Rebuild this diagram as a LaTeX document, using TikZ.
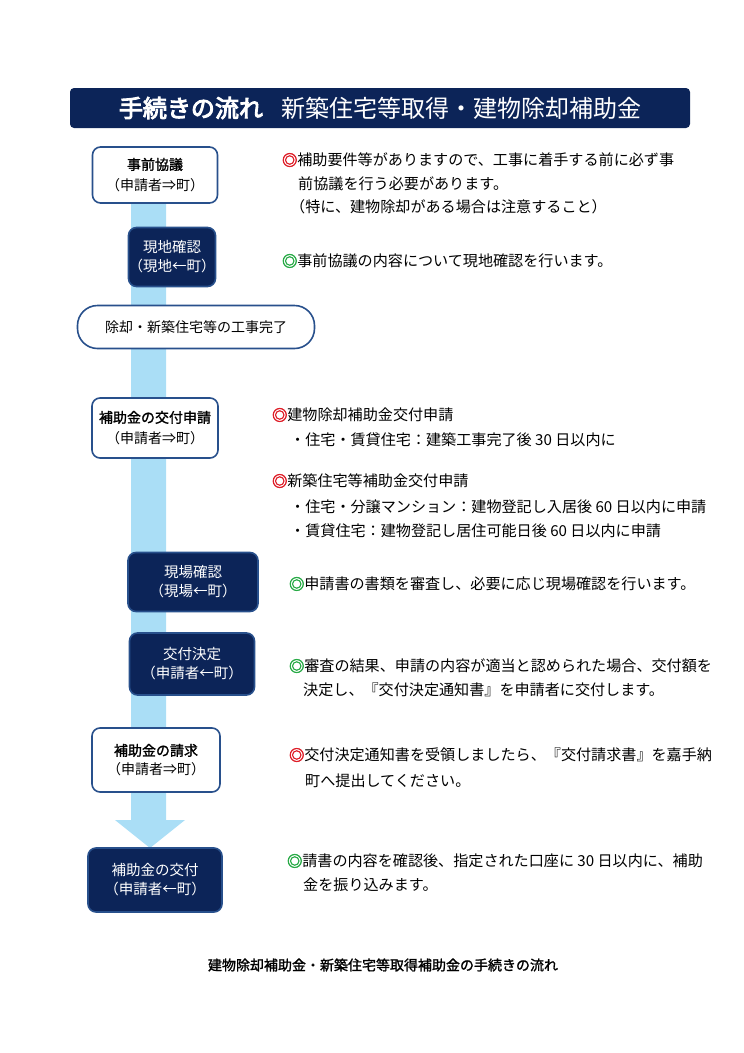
\documentclass[tikz,border=0pt]{standalone}
\usepackage{fontspec}
\setmainfont{Noto Sans CJK JP}
\newfontfamily\jpb{Noto Sans CJK JP}[FakeBold=1.5]
\newfontfamily\jpbb{Noto Sans CJK JP}[FakeBold=4]
\usetikzlibrary{calc}
\definecolor{navy}{RGB}{12,36,88}
\definecolor{rim}{RGB}{40,80,140}
\definecolor{sky}{RGB}{170,222,246}
\definecolor{mred}{RGB}{222,30,40}
\definecolor{mgreen}{RGB}{40,170,70}
\newcommand\rmark{{\jpbb\color{mred}◎}}
\newcommand\gmark{{\jpbb\color{mgreen}◎}}

\begin{document}
\begin{tikzpicture}[
    x=1pt, y=-1pt,
    font=\fontsize{15.1}{18}\selectfont,
    wb/.style={
        rounded corners=8pt, draw=rim, line width=1.6pt, fill=white,
        align=center, inner sep=0pt, font=\fontsize{14}{17}\selectfont
    },
    db/.style={
        rounded corners=8pt, draw=rim, line width=1.6pt, fill=navy,
        text=white, align=center, inner sep=0pt, font=\fontsize{14.5}{17}\selectfont
    },
    tx/.style={anchor=west, inner sep=0pt}
]
    \useasboundingbox (0,0) rectangle (744,1053);

    % title bar
    \node [fill=navy, rounded corners=4pt, minimum width=620pt, minimum height=40pt,
           text=white] (title) at (380,108)
        {{\jpbb\fontsize{24}{26}\selectfont 手続きの流れ}\hspace{1.2em}{\fontsize{24}{26}\selectfont 新築住宅等取得・建物除却補助金}};

    % flow arrow
    \coordinate (tip) at (150,848);
    \fill [sky] (131,200) -- (166,200) -- (166,820) -- (185,820)
        -- (tip) -- (115,820) -- (131,820) -- cycle;

    % steps
    \node [wb, minimum width=125pt, minimum height=56pt] (s1) at (155,175)
        {{\jpb 事前協議}\\[4pt]（申請者⇒町）};
    \node [db, minimum width=86pt, minimum height=59pt] (s2) at (172,257)
        {現地確認\\[2pt]（現地←町）};
    \node [wb, rounded corners=20pt, minimum width=237pt, minimum height=43pt] (s3) at (196,327)
        {除却・新築住宅等の工事完了};
    \node [wb, minimum width=126pt, minimum height=60pt] (s4) at (155,428)
        {{\jpb 補助金の交付申請}\\[4pt]（申請者⇒町）};
    \node [db, minimum width=130pt, minimum height=59pt] (s5) at (193,582)
        {現場確認\\[2pt]（現場←町）};
    \node [db, minimum width=125pt, minimum height=62pt] (s6) at (192,664)
        {交付決定\\[2pt]（申請者←町）};
    \node [wb, minimum width=128pt, minimum height=64pt] (s7) at (156,760)
        {{\jpb 補助金の請求}\\[2pt]（申請者⇒町）};
    \node [db, minimum width=134pt, minimum height=64pt] (s8) at (155,880)
        {補助金の交付\\[2pt]（申請者←町）};

    % notes
    \node [tx] (n1a) at (282,160) {\rmark 補助要件等がありますので、工事に着手する前に必ず事};
    \node [tx] (n1b) at (298,184) {前協議を行う必要があります。};
    \node [tx] (n1c) at (290,207) {（特に、建物除却がある場合は注意すること）};
    \node [tx] (n2) at (282,261) {\gmark 事前協議の内容について現地確認を行います。};
    \node [tx] (n4a) at (272,415) {\rmark 建物除却補助金交付申請};
    \node [tx] (n4b) at (290,440) {・住宅・賃貸住宅：建築工事完了後 30 日以内に};
    \node [tx] (n4c) at (272,481) {\rmark 新築住宅等補助金交付申請};
    \node [tx] (n4d) at (290,507) {・住宅・分譲マンション：建物登記し入居後 60 日以内に申請};
    \node [tx] (n4e) at (290,531) {・賃貸住宅：建物登記し居住可能日後 60 日以内に申請};
    \node [tx] (n5) at (289,584) {\gmark 申請書の書類を審査し、必要に応じ現場確認を行います。};
    \node [tx] (n6a) at (289,666) {\gmark 審査の結果、申請の内容が適当と認められた場合、交付額を};
    \node [tx] (n6b) at (303,690) {決定し、『交付決定通知書』を申請者に交付します。};
    \node [tx] (n7a) at (289,755) {\rmark 交付決定通知書を受領しましたら、『交付請求書』を嘉手納};
    \node [tx] (n7b) at (305,781) {町へ提出してください。};
    \node [tx] (n8a) at (287,861) {\gmark 請書の内容を確認後、指定された口座に 30 日以内に、補助};
    \node [tx] (n8b) at (303,885) {金を振り込みます。};

    % caption
    \node [font=\jpb\fontsize{14}{16}\selectfont] (cap) at (383,965)
        {建物除却補助金・新築住宅等取得補助金の手続きの流れ};
\end{tikzpicture}
\end{document}
